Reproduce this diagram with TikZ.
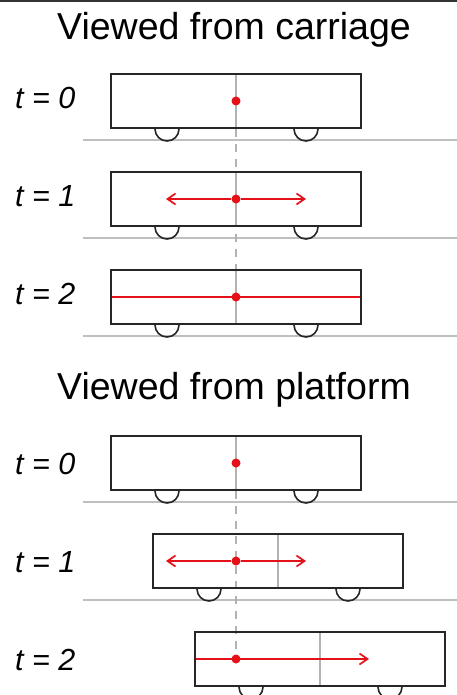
\documentclass[tikz,border=0pt]{standalone}
\usepackage{fontspec}
\setmainfont{Liberation Sans}
\usetikzlibrary{arrows.meta, positioning, calc, backgrounds}
\definecolor{flashred}{RGB}{228,18,24}

\begin{document}
\begin{tikzpicture}[x=1pt, y=-1pt, node distance=42pt]
    % Define styles
    \tikzstyle{carbox} = [rectangle, minimum width=250pt, minimum height=54pt, draw=black!85, line width=2pt, inner sep=0pt]
    \tikzstyle{headline} = [font=\fontsize{37.5}{40}\selectfont, anchor=base, inner sep=0pt]
    \tikzstyle{timelabel} = [font=\fontsize{30.5}{32}\selectfont\itshape, anchor=base west, inner sep=0pt]
    \tikzstyle{flash} = [circle, fill=flashred, minimum size=9pt, inner sep=0pt]
    \tikzstyle{centreline} = [black!30, line width=1.5pt]
    \tikzstyle{marker} = [black!30, line width=1.5pt, dash pattern=on 8pt off 7pt]
    \tikzstyle{track} = [black!25, line width=2pt]
    \tikzstyle{wheel} = [black!85, line width=1.6pt]
    \tikzstyle{ray} = [flashred, line width=1.7pt]
    \tikzstyle{rayarrow} = [ray, -{Straight Barb[length=8pt, width=11pt]}]

    \useasboundingbox (0,0) rectangle (457,695);
    \fill[black!80] (0,0) rectangle (457,2);

    % Viewed from carriage
    \node (head1) [headline] at (234,40) {Viewed from carriage};
    \node (c0) [carbox] at (236,101) {};
    \node (c1) [carbox, below=of c0] {};
    \node (c2) [carbox, below=of c1] {};
    \node (t0) [timelabel] at (15,109) {t = 0};
    \node (t1) [timelabel] at (15,206) {t = 1};
    \node (t2) [timelabel] at (15,304) {t = 2};

    % Viewed from platform
    \node (head2) [headline] at (234,399) {Viewed from platform};
    \node (c3) [carbox] at (236,463) {};
    \node (c4) [carbox, below=of c3, xshift=42pt] {};
    \node (c5) [carbox, below=of c4, xshift=42pt] {};
    \node (t3) [timelabel] at (15,474) {t = 0};
    \node (t4) [timelabel] at (15,572) {t = 1};
    \node (t5) [timelabel] at (15,670) {t = 2};

    % Light flashes
    \node (d0) [flash] at (c0) {};
    \node (d1) [flash] at (c1) {};
    \node (d2) [flash] at (c2) {};
    \node (d3) [flash] at (c3) {};
    \node (d4) [flash] at (d3 |- c4) {};
    \node (d5) [flash] at (d3 |- c5) {};

    % Wheels
    \draw[wheel] ($(c0.south west)+(45,0)$) arc[start angle=180, end angle=0, radius=12] ($(c0.south west)+(184,0)$) arc[start angle=180, end angle=0, radius=12];
    \draw[wheel] ($(c1.south west)+(45,0)$) arc[start angle=180, end angle=0, radius=12] ($(c1.south west)+(184,0)$) arc[start angle=180, end angle=0, radius=12];
    \draw[wheel] ($(c2.south west)+(45,0)$) arc[start angle=180, end angle=0, radius=12] ($(c2.south west)+(184,0)$) arc[start angle=180, end angle=0, radius=12];
    \draw[wheel] ($(c3.south west)+(45,0)$) arc[start angle=180, end angle=0, radius=12] ($(c3.south west)+(184,0)$) arc[start angle=180, end angle=0, radius=12];
    \draw[wheel] ($(c4.south west)+(45,0)$) arc[start angle=180, end angle=0, radius=12] ($(c4.south west)+(184,0)$) arc[start angle=180, end angle=0, radius=12];
    \draw[wheel] ($(c5.south west)+(45,0)$) arc[start angle=180, end angle=0, radius=12] ($(c5.south west)+(184,0)$) arc[start angle=180, end angle=0, radius=12];

    \begin{scope}[on background layer]
        % Tracks
        \draw[track] (83,140) -- (457,140);
        \draw[track] (83,238) -- (457,238);
        \draw[track] (83,336) -- (457,336);
        \draw[track] (83,502) -- (457,502);
        \draw[track] (83,600) -- (457,600);

        % Carriage centres
        \draw[centreline] (c0.north) -- (c0.south);
        \draw[centreline] (c1.north) -- (c1.south);
        \draw[centreline] (c2.north) -- (c2.south);
        \draw[centreline] (c3.north) -- (c3.south);
        \draw[centreline] (c4.north) -- (c4.south);
        \draw[centreline] (c5.north) -- (c5.south);

        % Flash position
        \draw[marker] (c0.south) -- (c2.north);
        \draw[marker] (c3.south) -- (d5);

        % Light rays
        \coordinate (l1) at ($(d1)+(-70,0)$);
        \coordinate (r1) at ($(d1)+(70,0)$);
        \coordinate (l4) at ($(d4)+(-70,0)$);
        \coordinate (r4) at ($(d4)+(70,0)$);
        \coordinate (r5) at ($(d5)+(133,0)$);
        \draw[rayarrow] (d1) -- (l1);
        \draw[rayarrow] (d1) -- (r1);
        \draw[ray] (c2.west) -- (c2.east);
        \draw[rayarrow] (d4) -- (l4);
        \draw[rayarrow] (d4) -- (r4);
        \draw[rayarrow] (c5.west) -- (r5);
    \end{scope}
\end{tikzpicture}
\end{document}
